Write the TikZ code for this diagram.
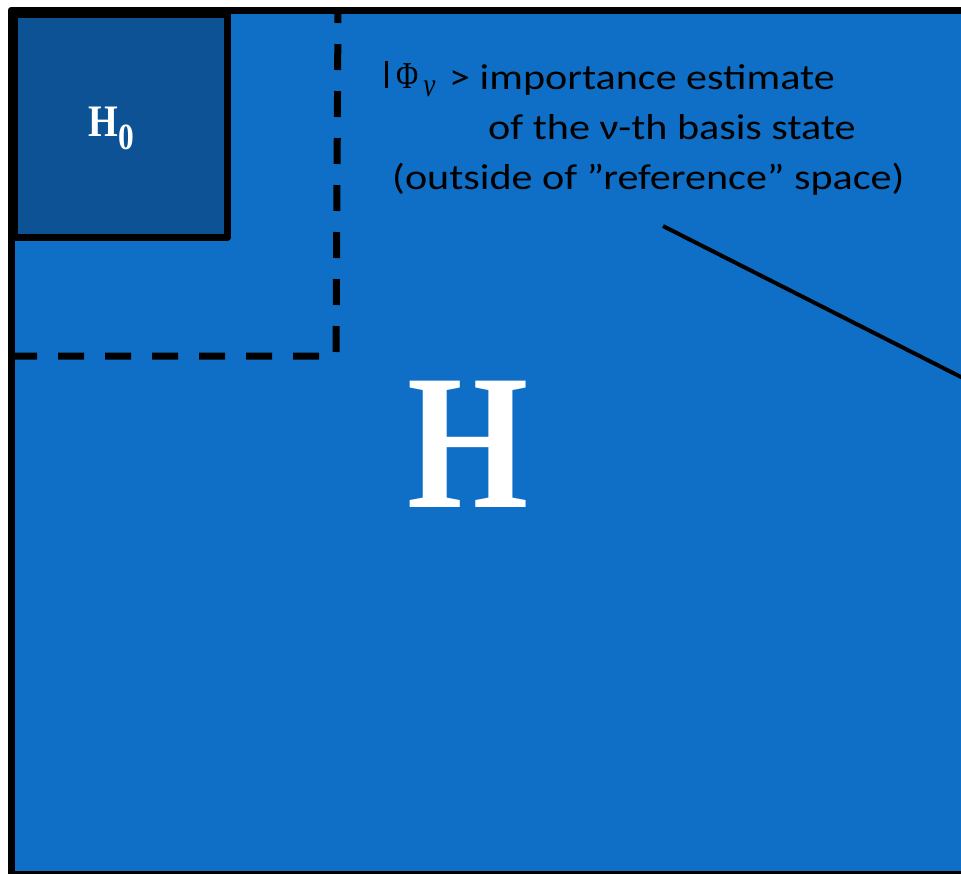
\documentclass[tikz,border=0pt]{standalone}
\usepackage{fontspec}
\setmainfont{Carlito}
\newfontfamily\hfont{Liberation Serif}
\definecolor{mainblue}{RGB}{15,111,198}
\definecolor{darkblue}{RGB}{13,82,148}
\tikzset{
  frame/.style={draw=black, line width=7pt, line join=round},
  dashframe/.style={draw=black, line width=7pt, dash pattern=on 26pt off 21pt},
  note/.style={anchor=base west, inner sep=0pt, xscale=1.17, font=\fontsize{36}{43}\selectfont, text=black},
  leader/.style={draw=black, line width=4pt},
}
\begin{document}
\begin{tikzpicture}[x=1pt,y=-1pt]
\useasboundingbox (0,0) rectangle (961,873);
\fill[white] (0,0) rectangle (961,873);
\begin{scope}
\clip (0,0) rectangle (961,873);
\path[frame, fill=mainblue] (11,10) rectangle (1000,874.5);
\path[dashframe] (11,356) -- (336,356) -- (338,10);
\node[frame, fill=darkblue, minimum width=213pt, minimum height=223pt, inner sep=0pt, anchor=north west] (h0box) at (11,11) {};
\node[inner sep=0pt, text=white, xscale=0.85, font=\hfont\bfseries\fontsize{45}{45}\selectfont] (h0) at (111.5,128.5) {H\raisebox{-13pt}{\fontsize{37}{37}\selectfont 0}};
\node[inner sep=0pt, text=white, xscale=0.807, font=\hfont\bfseries\fontsize{193}{193}\selectfont] (H) at (468.5,444) {H};
\node[anchor=base west, inner sep=0pt, xscale=0.8, text=black, font=\hfont\fontsize{38}{43}\selectfont] (ket) at (385,88) {\rule[0pt]{3pt}{27pt}\kern11pt Φ\kern6pt\raisebox{-8pt}{\fontsize{34}{34}\selectfont\itshape ν}};
\node[note] (l1) at (449,89) {> importance estimate};
\node[note] (l2) at (488,139) {of the ν-th basis state};
\node[note] (l3) at (392,189) {(outside of ”reference” space)};
\coordinate (ls) at (663,226);
\coordinate (le) at (990,391.7);
\draw[leader] (ls) -- (le);
\end{scope}
\end{tikzpicture}
\end{document}
